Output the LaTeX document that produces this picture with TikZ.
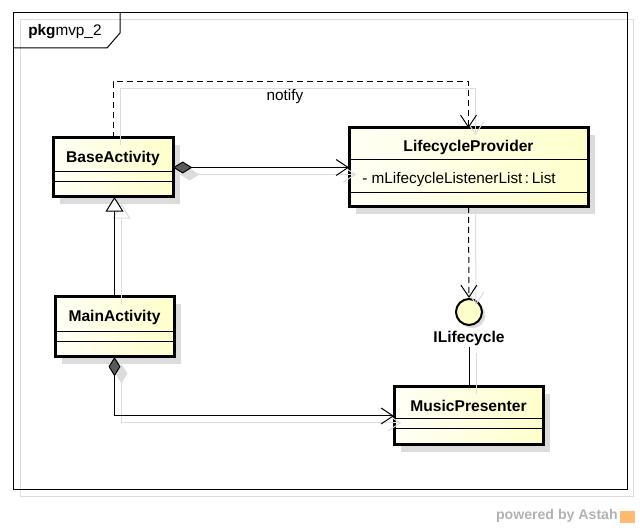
\documentclass[tikz,border=0pt]{standalone}
\usepackage{fontspec}
\setmainfont{Liberation Sans}
\usetikzlibrary{arrows.meta,shadows,calc}
\definecolor{fillA}{RGB}{255,255,246}
\definecolor{fillB}{RGB}{255,255,204}
\definecolor{shd}{RGB}{220,220,220}
\definecolor{dia}{RGB}{90,90,90}
\begin{document}
\begin{tikzpicture}[x=0.75pt,y=-0.75pt,
  cls/.style={draw, line width=2.25pt, rectangle, inner sep=0pt, outer sep=0pt,
    left color=fillA, right color=fillB,
    drop shadow={shadow xshift=5.25pt, shadow yshift=-5.25pt, fill=shd, opacity=1}},
  nm/.style={font=\bfseries\fontsize{11.7}{13}\selectfont, inner sep=0pt},
  txt/.style={font=\fontsize{11.5}{13}\selectfont, inner sep=0pt},
  sepl/.style={line width=0.75pt},
  con/.style={line width=0.75pt},
  barb/.tip={Straight Barb[length=9pt,width=12pt,line width=0.75pt]},
  tri/.tip={Triangle[length=11pt,width=13.5pt,line width=0.75pt,fill=white]},
  dep/.style={con, dash pattern=on 4.5pt off 3pt},
  shadowcon/.style={draw=shd, line width=0.75pt,
    transform canvas={shift={(5.25pt,-5.25pt)}}},
  iface/.style={circle, draw, line width=1.5pt, minimum size=19.5pt, inner sep=0pt,
    fill=fillB, drop shadow={shadow xshift=2.5pt, shadow yshift=-2.5pt, fill=shd, opacity=1}}
]
\useasboundingbox (0,0) rectangle (640,530);

% package frame
\draw[shd, line width=0.75pt] (20,20) rectangle (633,497);
\draw[line width=0.75pt] (13,13) rectangle (627,490);
\draw[line width=0.75pt] (13,48) -- (107,48) -- (120,33) -- (120,13);
\node[txt, anchor=west] (pkg) at (28,32) {\textbf{pkg}mvp\_2};

% classes
\node[cls, minimum width=90pt, minimum height=44.25pt] (base) at (113,167.5) {};
\node[nm] (baseN) at ($(base.north)+(0,20)$) {BaseActivity};
\draw[sepl] ($(base.north west)+(0,34)$) -- ($(base.north east)+(0,34)$);
\draw[sepl] ($(base.north west)+(0,44)$) -- ($(base.north east)+(0,44)$);

\node[cls, minimum width=179.25pt, minimum height=59.25pt] (lp) at (468.5,167.5) {};
\node[nm] (lpN) at ($(lp.north)+(0,19)$) {LifecycleProvider};
\draw[sepl] ($(lp.north west)+(0,32)$) -- ($(lp.north east)+(0,32)$);
\draw[sepl] ($(lp.north west)+(0,65)$) -- ($(lp.north east)+(0,65)$);
\node[txt, anchor=west] (lpA) at ($(lp.north west)+(13,52)$) {- mLifecycleListenerList\,:\,List};

\node[cls, minimum width=89.25pt, minimum height=45pt] (main) at (114.5,327) {};
\node[nm] (mainN) at ($(main.north)+(0,20)$) {MainActivity};
\draw[sepl] ($(main.north west)+(0,35)$) -- ($(main.north east)+(0,35)$);
\draw[sepl] ($(main.north west)+(0,45)$) -- ($(main.north east)+(0,45)$);

\node[cls, minimum width=111.75pt, minimum height=43.5pt] (mp) at (468.5,416) {};
\node[nm] (mpN) at ($(mp.north)+(0,19)$) {MusicPresenter};
\draw[sepl] ($(mp.north west)+(0,32)$) -- ($(mp.north east)+(0,32)$);
\draw[sepl] ($(mp.north west)+(0,42)$) -- ($(mp.north east)+(0,42)$);

% interface
\node[iface] (il) at (469,312) {};
\node[nm] (ilN) at (469,338) {ILifecycle};

% connector shadows
\draw[shadowcon, -{Straight Barb[length=9pt,width=12pt,line width=0.75pt]}] (base.north) -- ++(0,-56) -| (lp.north);
\draw[shadowcon, {Diamond[length=14.5pt,width=9pt,fill=shd]}-{Straight Barb[length=9pt,width=12pt,line width=0.75pt]}] (base.east) -- (lp.west);
\draw[shadowcon, -{Triangle[length=11pt,width=13.5pt,fill=white]}] (main.north) -- (main.north |- base.south);
\draw[shadowcon, -{Straight Barb[length=9pt,width=12pt,line width=0.75pt]}] (lp.south) -- (il.north);
\draw[shadowcon, {Diamond[length=14.5pt,width=9pt,fill=shd]}-{Straight Barb[length=9pt,width=12pt,line width=0.75pt]}] (main.south) |- (mp.west);
\draw[shadowcon] (ilN.south) -- (ilN.south |- mp.north);

% connectors
\draw[dep, -barb] (base.north) -- ++(0,-56) -| (lp.north);
\node[txt] (notify) at (285,97) {notify};
\draw[con, {Diamond[length=14.5pt,width=9pt,fill=dia]}-barb] (base.east) -- (lp.west);
\draw[con, -tri] (main.north) -- (main.north |- base.south);
\draw[dep, -barb] (lp.south) -- (il.north);
\draw[con, {Diamond[length=14.5pt,width=9pt,fill=dia]}-barb] (main.south) |- (mp.west);
\draw[con] ([yshift=-1pt]ilN.south) -- (ilN.south |- mp.north);

% footer
\node[font=\bfseries\fontsize{10.6}{12}\selectfont, text=black!30, anchor=east, inner sep=0pt] (pw) at (618,516) {powered by Astah};
\node[fill=orange!55, minimum width=11.5pt, minimum height=9.5pt, inner sep=0pt] (logo) at (627.5,517) {};
\end{tikzpicture}
\end{document}
